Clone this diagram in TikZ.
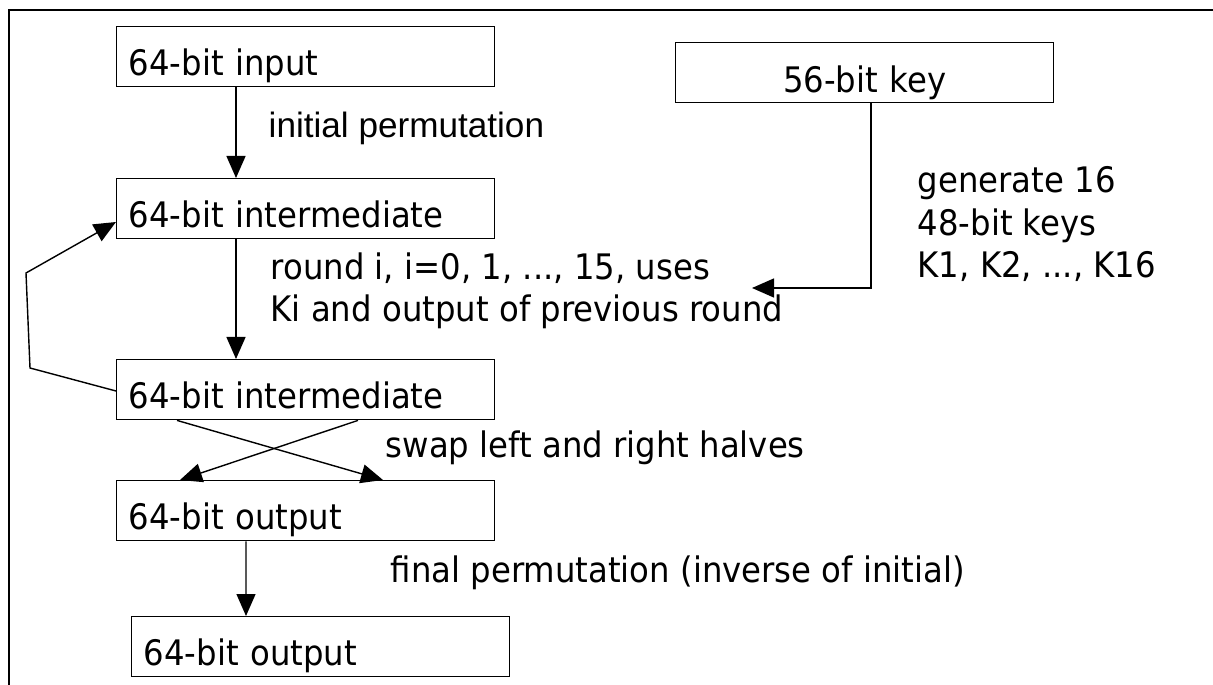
\documentclass[tikz,border=0pt]{standalone}
\usepackage{fontspec}
\setmainfont{DejaVu Sans}[FakeStretch=0.92]
\newfontfamily\arialfont{Liberation Sans}
\usetikzlibrary{arrows.meta}

\begin{document}
\begin{tikzpicture}[
    blk/.style={draw, anchor=north west, inner xsep=0.12cm, inner ysep=0pt,
      text width=3.54cm, text height=0.49cm, text depth=0.11cm, align=left},
    lbl/.style={anchor=base west, inner sep=0pt, align=left},
    arr/.style={-{Triangle[length=2.2mm, width=1.9mm]}},
    font=\fontsize{10}{12.2}\selectfont, line width=0.4pt]
          \useasboundingbox (0,0) rectangle (12.13,-6.85);
          \draw (0.09,-6.85) -- (0.09,-0.10) -- (12.13,-0.10);

          \node[blk] (in) at (1.16,-0.26) {64-bit input};
          \node[blk] (mid1) at (1.16,-1.78) {64-bit intermediate};
          \node[blk] (mid2) at (1.16,-3.59) {64-bit intermediate};
          \node[blk] (out1) at (1.16,-4.80) {64-bit output};
          \node[blk] (out2) at (1.31,-6.16) {64-bit output};
          \node[blk, align=center, text height=0.50cm, text depth=0.10cm] (key) at (6.75,-0.42) {56-bit key};
          \coordinate (kin) at (7.52,-2.88);

          \node[lbl, font=\arialfont] (lip) at (2.68,-1.38) {initial permutation};
          \node[lbl] (lround) at (2.70,-3.22) {round i, i=0, 1, ..., 15, uses\\Ki and output of previous round};
          \node[lbl] (lgen) at (9.17,-2.78) {generate 16\\48-bit keys\\K1, K2, ..., K16};
          \node[lbl] (lswap) at (3.85,-4.58) {swap left and right halves};
          \node[lbl] (lfp) at (3.90,-5.82) {final permutation (inverse of initial)};

          \draw[arr] ([xshift=1.20cm]in.south west) -- ([xshift=1.20cm]mid1.north west);
          \draw[arr] ([xshift=1.20cm]mid1.south west) -- ([xshift=1.20cm]mid2.north west);
          \draw[arr] ([yshift=-0.32cm]mid2.north west) -- (0.30,-3.68) -- (0.26,-2.73) -- ([yshift=-0.44cm]mid1.north west);
          \draw[arr] ([xshift=0.61cm]mid2.south west) -- ([xshift=2.67cm]out1.north west);
          \draw[arr] ([xshift=2.42cm]mid2.south west) -- ([xshift=0.64cm]out1.north west);
          \draw[arr] ([xshift=1.30cm]out1.south west) -- ([xshift=1.15cm]out2.north west);
          \draw[arr] ([xshift=1.96cm]key.south west) |- (kin);
\end{tikzpicture}
\end{document}
